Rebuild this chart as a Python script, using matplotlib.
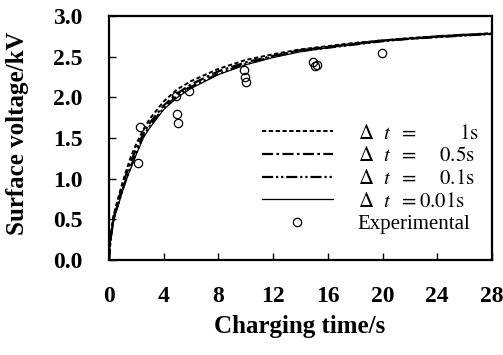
import matplotlib
matplotlib.use("Agg")
import matplotlib.pyplot as plt
from matplotlib.font_manager import FontProperties

plt.rcParams['mathtext.fontset'] = 'stix'

# Simulated curves (charging time in s, surface voltage in kV)
t_sim = [0, 0.1, 0.3, 0.5, 0.8, 1.0, 1.3, 1.6, 2.0, 2.5, 3, 4, 5, 6, 8, 10,
         12, 14, 16, 18, 20, 22, 24, 26, 28]
v_dt1 = [0, 0.25, 0.52, 0.66, 0.84, 0.96, 1.12, 1.27, 1.43, 1.6, 1.74, 1.95,
         2.1, 2.2, 2.35, 2.46, 2.53, 2.59, 2.63, 2.67, 2.70, 2.73, 2.75, 2.77, 2.79]
v_dt05 = [0, 0.24, 0.5, 0.63, 0.8, 0.92, 1.07, 1.21, 1.37, 1.55, 1.69, 1.9,
          2.05, 2.16, 2.32, 2.43, 2.51, 2.58, 2.62, 2.66, 2.70, 2.72, 2.75, 2.77, 2.78]
v_dt01 = [0, 0.23, 0.47, 0.6, 0.76, 0.87, 1.02, 1.15, 1.32, 1.52, 1.65, 1.87,
          2.02, 2.13, 2.29, 2.41, 2.5, 2.57, 2.61, 2.65, 2.69, 2.72, 2.74, 2.76, 2.78]
v_dt001 = [0, 0.22, 0.46, 0.58, 0.74, 0.85, 1.0, 1.13, 1.3, 1.5, 1.63, 1.85,
           2.0, 2.11, 2.28, 2.4, 2.49, 2.56, 2.61, 2.65, 2.69, 2.72, 2.74, 2.76, 2.78]

# Experimental points
t_exp = [2.1, 2.27, 4.9, 4.97, 5.04, 5.85, 9.87, 9.95, 10.0, 14.9, 15.05, 15.2, 19.95]
v_exp = [1.19, 1.64, 2.02, 1.80, 1.69, 2.08, 2.33, 2.25, 2.19, 2.44, 2.39, 2.40, 2.54]

x_ticks = [0, 4, 8, 12, 16, 20, 24, 28]
y_ticks = [0.0, 0.5, 1.0, 1.5, 2.0, 2.5, 3.0]

labels = [r"$\Delta\ \ t\ \ =\ \ \ \ \ \ \ \ \mathrm{1s}$",
          r"$\Delta\ \ t\ \ =\ \ \ \ \mathrm{0.5s}$",
          r"$\Delta\ \ t\ \ =\ \ \ \ \mathrm{0.1s}$",
          r"$\Delta\ \ t\ \ =\mathrm{0.01s}$",
          "Experimental"]

fig = plt.figure(figsize=(5.03, 3.55), dpi=100)
ax = fig.add_axes([109/503, 1-260/355, 383/503, 244/355])

l1, = ax.plot(t_sim, v_dt1, color='black', lw=1.4, dashes=(2.2, 1.3))
l2, = ax.plot(t_sim, v_dt05, color='black', lw=1.6, dashes=(5, 1.5, 1.2, 1.5))
l3, = ax.plot(t_sim, v_dt01, color='black', lw=1.6, dashes=(5, 1.3, 1, 1.3, 1, 1.3))
l4, = ax.plot(t_sim, v_dt001, color='black', lw=0.9)
l5, = ax.plot(t_exp, v_exp, linestyle='none', marker='o', markersize=6,
              markerfacecolor='none', markeredgecolor='black', markeredgewidth=0.9)

ax.set_xlim(0, 28)
ax.set_ylim(0, 3.0)
ax.set_xticks(x_ticks)
ax.set_yticks(y_ticks)
ax.set_xticklabels([str(v) for v in x_ticks])
ax.set_yticklabels([f"{v:.1f}" for v in y_ticks])

tick_fp = FontProperties(family='Liberation Serif', weight='bold', size=17)
for lab in ax.get_xticklabels() + ax.get_yticklabels():
    lab.set_fontproperties(tick_fp)

ax.tick_params(direction='in', length=5, width=1, pad=19, top=False, right=False)
for s in ax.spines.values():
    s.set_linewidth(1.6)

label_font = dict(family='Liberation Serif', weight='bold', size=18)
ax.set_xlabel("Charging time/s", fontdict=label_font)
ax.set_ylabel("Surface voltage/kV", fontdict=label_font)
ax.xaxis.set_label_coords((300-109)/383, (260-315)/244)
ax.yaxis.set_label_coords((29-109)/383, 0.52)

leg = ax.legend([l1, l2, l3, l4, l5], labels, loc='upper left',
                bbox_to_anchor=((262-109)/383, (260-124)/244),
                frameon=False, prop=dict(family='Liberation Serif', size=15),
                handlelength=3.4, handletextpad=1.2, labelspacing=0.15,
                borderaxespad=0, borderpad=0)

fig.savefig("out.png", dpi=100)
